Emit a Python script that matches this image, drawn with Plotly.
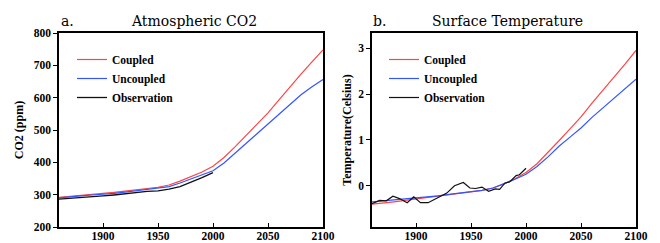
import plotly.graph_objects as go

years_model = [1860, 1870, 1880, 1890, 1900, 1910, 1920, 1930, 1940, 1950, 1960, 1970,
               1980, 1990, 2000, 2010, 2020, 2030, 2040, 2050, 2060, 2070, 2080, 2090, 2100]
co2_coupled = [292, 294, 298, 301, 303, 307, 311, 316, 319, 323, 330, 342,
               356, 370, 388, 415, 448, 483, 518, 553, 593, 634, 673, 711, 748]
co2_uncoupled = [290, 292, 296, 299, 301, 304, 308, 312, 315, 319, 325, 336,
                 349, 362, 374, 398, 428, 459, 489, 518, 549, 580, 609, 634, 656]
years_obs_co2 = [1860, 1870, 1880, 1890, 1900, 1910, 1920, 1930, 1940, 1950, 1960, 1970,
                 1980, 1990, 2000]
co2_obs = [286, 288, 291, 294, 296, 299, 303, 307, 310, 312, 317, 325, 338, 353, 368]

temp_coupled = [-0.40, -0.38, -0.35, -0.32, -0.29, -0.26, -0.23, -0.20, -0.17, -0.14, -0.10, -0.05,
                0.04, 0.15, 0.29, 0.48, 0.72, 0.98, 1.24, 1.50, 1.80, 2.08, 2.37, 2.65, 2.95]
temp_uncoupled = [-0.35, -0.33, -0.31, -0.29, -0.27, -0.24, -0.22, -0.19, -0.16, -0.14, -0.10, -0.05,
                  0.04, 0.14, 0.25, 0.42, 0.63, 0.86, 1.06, 1.26, 1.49, 1.70, 1.92, 2.12, 2.32]
years_obs_temp = [1860, 1867, 1873, 1879, 1885, 1892, 1898, 1904, 1911, 1917, 1922, 1928, 1935,
                  1943, 1949, 1954, 1960, 1966, 1972, 1976, 1981, 1985, 1991, 1994, 2000]
temp_obs = [-0.39, -0.32, -0.33, -0.23, -0.28, -0.37, -0.24, -0.37, -0.37, -0.29, -0.24, -0.16, 0.00,
            0.07, -0.05, -0.06, -0.03, -0.12, -0.07, -0.08, 0.06, 0.08, 0.22, 0.24, 0.38]

co2_ticks = [200, 300, 400, 500, 600, 700, 800]
temp_ticks = [0, 1, 2, 3]
year_ticks = [1900, 1950, 2000, 2050, 2100]

RED = "#ff4444"
BLUE = "#3355ff"
BLACK = "#111111"
SERIF = "Liberation Serif"
TITLEF = "DejaVu Serif"

fig = go.Figure()
specs = [
    ("Coupled", RED, years_model, co2_coupled, temp_coupled),
    ("Uncoupled", BLUE, years_model, co2_uncoupled, temp_uncoupled),
]
for name, col, xs, yc, yt in specs:
    fig.add_trace(go.Scatter(x=xs, y=yc, name=name, mode="lines", line=dict(color=col, width=1.2),
                             xaxis="x", yaxis="y", legend="legend"))
fig.add_trace(go.Scatter(x=years_obs_co2, y=co2_obs, name="Observation", mode="lines",
                         line=dict(color=BLACK, width=1.3), xaxis="x", yaxis="y", legend="legend"))
for name, col, xs, yc, yt in specs:
    fig.add_trace(go.Scatter(x=xs, y=yt, name=name, mode="lines", line=dict(color=col, width=1.2),
                             xaxis="x2", yaxis="y2", legend="legend2"))
fig.add_trace(go.Scatter(x=years_obs_temp, y=temp_obs, name="Observation", mode="lines",
                         line=dict(color=BLACK, width=1.2), xaxis="x2", yaxis="y2", legend="legend2"))

tickfont = dict(family=SERIF, size=11.5, color="black", weight="bold")
common_x = dict(range=[1860, 2100], tickvals=year_ticks, ticks="inside", ticklen=4,
                showline=True, linecolor="black", linewidth=1.5, mirror=True, automargin=False,
                showgrid=False, zeroline=False, tickfont=tickfont, tickcolor="black",
                ticklabelstandoff=-3)
common_y = dict(ticks="outside", ticklen=4, showline=True, linecolor="black", linewidth=1.5,
                mirror=True, showgrid=False, zeroline=False, tickfont=tickfont, tickcolor="black",
                automargin=False)

yd = [1 - 227 / 243, 1 - 33 / 243]
legfont = dict(family=SERIF, size=11.5, color="black", weight="bold")
axtitlefont = dict(family=SERIF, size=12, color="black", weight="bold")
fig.update_layout(
    width=660, height=243,
    margin=dict(l=0, r=0, t=0, b=0, autoexpand=False),
    paper_bgcolor="white", plot_bgcolor="white",
    xaxis=dict(domain=[59 / 660, 323 / 660], anchor="y", **common_x),
    yaxis=dict(domain=yd, anchor="x", range=[200, 800], tickvals=co2_ticks,
               title=dict(text="CO2 (ppm)", font=axtitlefont, standoff=8), **common_y),
    xaxis2=dict(domain=[372 / 660, 636 / 660], anchor="y2", **common_x),
    yaxis2=dict(domain=yd, anchor="x2", range=[-0.9, 3.33], tickvals=temp_ticks,
                title=dict(text="Temperature(Celsius)", font=axtitlefont, standoff=4), **common_y),
    legend=dict(x=72 / 660, y=1 - 45 / 243, xanchor="left", yanchor="top", bgcolor="rgba(0,0,0,0)",
                font=legfont, itemwidth=30, tracegroupgap=0),
    legend2=dict(x=384 / 660, y=1 - 45 / 243, xanchor="left", yanchor="top", bgcolor="rgba(0,0,0,0)",
                 font=legfont, itemwidth=30, tracegroupgap=0),
    showlegend=True,
    annotations=[
        dict(text="a.", x=59 / 660, y=1 - 21 / 243, xref="paper", yref="paper", xanchor="left",
             yanchor="middle", showarrow=False, font=dict(family=TITLEF, size=14, color="black")),
        dict(text="Atmospheric CO2", x=194 / 660, y=1 - 21 / 243, xref="paper", yref="paper",
             xanchor="center", yanchor="middle", showarrow=False,
             font=dict(family=TITLEF, size=14, color="black")),
        dict(text="b.", x=371 / 660, y=1 - 21 / 243, xref="paper", yref="paper", xanchor="left",
             yanchor="middle", showarrow=False, font=dict(family=TITLEF, size=14, color="black")),
        dict(text="Surface Temperature", x=507 / 660, y=1 - 21 / 243, xref="paper", yref="paper",
             xanchor="center", yanchor="middle", showarrow=False,
             font=dict(family=TITLEF, size=14, color="black")),
    ],
)

fig.write_html("out.html", config={"displayModeBar": False},
               post_script="document.body.style.margin='0';document.body.style.overflow='hidden';")
